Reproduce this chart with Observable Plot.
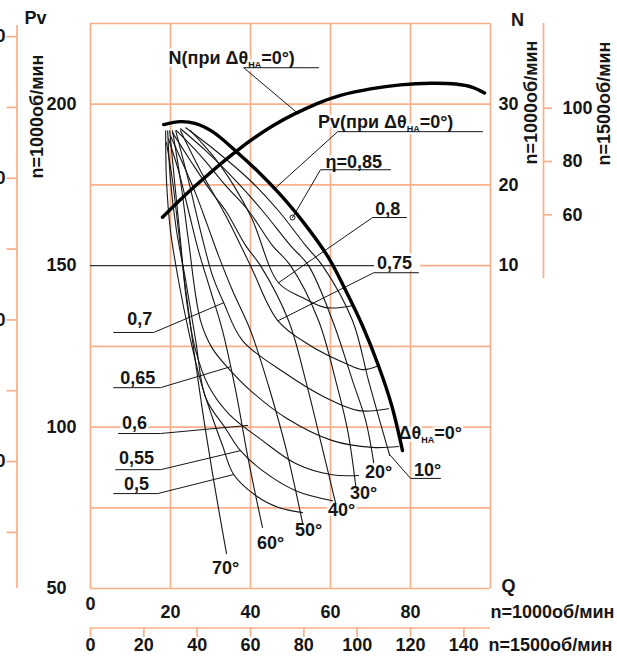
<!DOCTYPE html>
<html><head><meta charset="utf-8">
<script src="https://cdn.jsdelivr.net/npm/d3@7"></script>
<script src="https://cdn.jsdelivr.net/npm/@observablehq/plot@0.6"></script>
<style>
html,body{margin:0;padding:0;background:#fff;}
#chart{width:617px;height:656px;overflow:hidden;}
</style></head><body><div id="chart"></div>
<script>
// ---------- axis / tick values ----------
const qTicks1000 = [20, 40, 60, 80];
const qZero = [0];
const qTicks1500 = [0, 20, 40, 60, 80, 100, 120, 140];
const pvTicks1000 = [100, 150, 200];
const pvBottom = [50];
const pvTicks1500 = [150, 200, 250, 300, 350, 400, 450, 500];
const nTicks1000 = [10, 20, 30];
const nTicks1500 = [60, 80, 100];
const gridQ = [0, 20, 40, 60, 80, 100];
const gridPv = [50, 75, 100, 125, 175, 200, 225];

// ---------- Pv and N at Δθ=0° (n=1000) ----------
const pv0Q  = [18.3, 22.5, 26.3, 30.5, 36.5, 42.0, 47.0, 53.0, 59.5, 63.8, 68.0, 72.0, 75.3, 78.0];
const pv0Pv = [193.7, 194.6, 194.0, 191.5, 185.3, 179.0, 172.6, 163.8, 152.5, 142.3, 131.4, 119.0, 106.7, 92.7];
const n0Q = [18.0, 25.8, 36.5, 45.8, 56.8, 62.5, 70.0, 77.5, 85.0, 91.3, 95.5, 98.5];
const n0N = [16.0, 19.7, 24.2, 27.4, 30.1, 31.1, 31.9, 32.4, 32.6, 32.5, 32.1, 31.4];

// ---------- Pv curves for guide-vane angles Δθ ----------
const t10Q = [23.8, 31.3, 40.0, 47.0, 53.8, 58.0, 65.5, 69.5, 72.3, 74.8];
const t10Pv = [192.7, 185.6, 176.3, 167.0, 156.2, 150.0, 133.0, 114.4, 102.0, 91.2];
const t20Q = [22.5, 28.8, 36.3, 43.0, 50.0, 54.5, 60.5, 65.5, 68.8, 70.8];
const t20Pv = [192.4, 185.6, 176.3, 167.0, 156.2, 150.0, 133.0, 114.4, 102.0, 89.0];
const t30Q = [21.5, 27.5, 33.8, 39.5, 45.5, 50.0, 57.0, 61.3, 64.3, 66.3];
const t30Pv = [191.8, 184.1, 174.8, 167.0, 156.2, 150.0, 133.0, 114.4, 98.9, 81.9];
const t40Q = [20.5, 25.0, 30.0, 33.8, 38.8, 42.5, 49.5, 53.8, 57.5, 61.3];
const t40Pv = [191.2, 182.5, 173.2, 167.0, 156.2, 150.0, 133.0, 114.4, 95.8, 76.3];
const t50Q = [20.0, 23.3, 26.5, 29.3, 32.0, 35.5, 40.0, 44.5, 49.0, 53.0];
const t50Pv = [190.2, 181.0, 171.7, 162.3, 153.1, 142.3, 129.9, 112.8, 92.7, 70.4];
const t60Q = [19.5, 22.0, 24.5, 27.0, 30.0, 33.0, 36.3, 39.5, 43.0];
const t60Pv = [189.3, 179.4, 167.0, 154.6, 142.3, 129.9, 111.3, 89.6, 68.9];
const t70Q = [19.0, 20.5, 22.0, 23.5, 25.5, 28.0, 30.8, 34.0];
const t70Pv = [188.1, 176.3, 160.8, 145.4, 126.8, 105.1, 83.4, 60.8];

// ---------- iso-efficiency curves η ----------
const e50Q = [18.8, 19.0, 20.0, 22.0, 24.5, 27.5, 30.5, 33.0, 35.8, 41.3, 47.0, 53.0];
const e50Pv = [191.8, 176.3, 160.8, 145.4, 129.9, 114.4, 102.9, 94.3, 85.3, 78.8, 75.1, 73.5];
const e55Q = [19.3, 20.0, 21.5, 23.8, 26.3, 28.8, 33.8, 37.5, 43.0, 51.3, 60.5];
const e55Pv = [191.8, 176.3, 160.8, 145.4, 126.8, 109.1, 99.5, 92.7, 86.5, 80.3, 77.2];
const e60Q = [19.8, 21.0, 22.5, 24.0, 26.3, 29.5, 34.5, 43.0, 51.3, 60.0, 67.0];
const e60Pv = [191.8, 176.3, 157.7, 139.2, 123.7, 112.8, 104.2, 95.8, 88.7, 85.3, 85.0];
const e65Q = [20.5, 22.5, 24.5, 27.5, 30.5, 35.0, 40.0, 48.8, 60.5, 70.5, 77.0];
const e65Pv = [191.8, 176.3, 157.7, 133.0, 124.3, 117.5, 111.3, 102.9, 95.8, 93.7, 94.0];
const e70Q = [21.3, 24.5, 27.5, 30.5, 33.3, 38.0, 48.8, 58.8, 67.0, 74.5];
const e70Pv = [191.8, 176.3, 160.8, 146.9, 138.5, 126.8, 116.6, 109.1, 105.1, 105.7];
const e75Q = [22.5, 27.5, 33.8, 40.0, 46.8, 55.0, 63.8, 68.0, 72.0];
const e75Pv = [191.8, 179.4, 165.5, 150.0, 133.0, 125.2, 119.7, 117.8, 119.0];
const e80Q = [25.0, 32.5, 40.0, 47.0, 53.0, 58.8, 65.5];
const e80Pv = [191.8, 181.0, 165.5, 144.7, 140.1, 137.0, 137.6];
const e85Point = {q: 50.5, pv: 164.9};

// ---------- labels (anchored in data units) ----------
const angleLabels = ["10°", "20°", "30°", "40°", "50°", "60°", "70°"];
const angleLabelQ = [84.3, 72.0, 68.3, 62.8, 54.5, 45.0, 33.8];
const angleLabelPv = [86.5, 85.9, 79.4, 74.1, 68.0, 63.9, 56.2];

const etaLeftLabels = ["0,7", "0,65", "0,6", "0,55", "0,5"];
const etaLeftQ = [12.3, 11.8, 11.0, 11.5, 11.5];
const etaLeftPv = [133.3, 115.0, 101.1, 90.2, 82.2];
const etaLeftUnderQ1 = [5.8, 5.8, 7.0, 6.3, 5.8];
const etaLeftUnderQ2 = [15.8, 17.5, 17.5, 17.5, 16.8];
const etaLeftUnderPv = [129.3, 112.2, 98.0, 86.8, 79.4];
const etaLeftTipQ = [33.3, 35.0, 39.3, 37.5, 35.8];
const etaLeftTipPv = [138.5, 118.7, 100.5, 92.7, 85.3];

const rightLabels = ["η=0,85", "0,8", "0,75", "Pv(при Δθ{НА}=0°)", "N(при Δθ{НА}=0°)"];
const rightLabelQ = [65.8, 74.3, 76.0, 73.8, 35.3];
const rightLabelPv = [181.9, 167.6, 150.9, 194.3, 214.2];
const rightUnderQ1 = [57.5, 70.5, 70.8, 61.8, 38.3];
const rightUnderQ2 = [75.0, 79.0, 82.0, 98.0, 57.0];
const rightUnderPv = [179.7, 164.9, 147.8, 191.5, 211.3];
const rightTipQ = [50.5, 47.0, 47.0, 46.0, 52.0];
const rightTipPv = [164.9, 144.7, 133.0, 173.8, 197.0];

const zeroLabel = "Δθ{НА}=0°";
const zeroLabelQ = 77.0, zeroLabelPv = 98.0;
const leader10Q = [75.0, 80.0, 87.5];
const leader10Pv = [91.2, 84.1, 84.1];

// ---------- secondary-scale conversions ----------
const pvFromN = n => 125 + 2.5 * n;              // N (n=1000) on the Pv scale
const nFrom1500 = n => 0.33 * n - 3.5;           // N (n=1500) -> N (n=1000)
const pvFrom1500 = p => 1.58 + 0.4387 * p;       // Pv (n=1500) -> Pv (n=1000)

// ---------- build tables ----------
const rows = (name, qs, vs) => qs.map((q, i) => ({name, q, v: vs[i]}));
const thetaRows = [
  ...rows("10", t10Q, t10Pv), ...rows("20", t20Q, t20Pv), ...rows("30", t30Q, t30Pv),
  ...rows("40", t40Q, t40Pv), ...rows("50", t50Q, t50Pv), ...rows("60", t60Q, t60Pv),
  ...rows("70", t70Q, t70Pv)
];
const etaRows = [
  ...rows("0.5", e50Q, e50Pv), ...rows("0.55", e55Q, e55Pv), ...rows("0.6", e60Q, e60Pv),
  ...rows("0.65", e65Q, e65Pv), ...rows("0.7", e70Q, e70Pv), ...rows("0.75", e75Q, e75Pv),
  ...rows("0.8", e80Q, e80Pv)
];
const pv0Rows = rows("pv0", pv0Q, pv0Pv);
const n0Rows = n0Q.map((q, i) => ({name: "n0", q, v: pvFromN(n0N[i])}));

const leaderRows = [];
etaLeftLabels.forEach((l, i) => {
  leaderRows.push({id: "L" + i, q: etaLeftUnderQ1[i], v: etaLeftUnderPv[i]});
  leaderRows.push({id: "L" + i, q: etaLeftUnderQ2[i], v: etaLeftUnderPv[i]});
  leaderRows.push({id: "L" + i, q: etaLeftTipQ[i], v: etaLeftTipPv[i]});
});
rightLabels.forEach((l, i) => {
  leaderRows.push({id: "R" + i, q: rightUnderQ2[i], v: rightUnderPv[i]});
  leaderRows.push({id: "R" + i, q: rightUnderQ1[i], v: rightUnderPv[i]});
  leaderRows.push({id: "R" + i, q: rightTipQ[i], v: rightTipPv[i]});
});
leader10Q.forEach((q, i) => leaderRows.push({id: "A10", q, v: leader10Pv[i]}));

const ORANGE = "#f7b08a";
const INK = "#161616";
const FONT = {fontSize: 18, fontWeight: "bold", fill: INK};
const MID = {textAnchor: "middle", lineAnchor: "middle"};
const HALO = {stroke: "white", strokeWidth: 5};

const chart = Plot.plot({
  width: 617, height: 656,
  marginLeft: 90, marginRight: 127, marginTop: 23, marginBottom: 68,
  x: {domain: [0, 100], axis: null, label: null},
  y: {domain: [50, 225], axis: null, label: null},
  style: {fontFamily: "'Liberation Sans', Arial, sans-serif", background: "white", overflow: "hidden"},
  marks: [
    // grid & frame
    Plot.ruleX(gridQ, {x: d => d, y1: 50, y2: 225, stroke: ORANGE, strokeWidth: 1.7}),
    Plot.ruleY(gridPv, {y: d => d, x1: 0, x2: 100, stroke: ORANGE, strokeWidth: 1.7}),
    Plot.ruleY([150], {y: d => d, x1: 0, x2: 71, stroke: "#333", strokeWidth: 1.3}),
    Plot.ruleY([150], {y: d => d, x1: 82.5, x2: 100, stroke: ORANGE, strokeWidth: 1.7}),

    // left outer axis (n=1500 Pv), its labels run off the page edge as in the source
    Plot.ruleX([0], {x: d => d, dx: -73.5, insetTop: 2, stroke: ORANGE, strokeWidth: 1.7}),
    Plot.ruleY(pvTicks1500, {y: pvFrom1500, insetLeft: -83.5, insetRight: 473.5, stroke: ORANGE, strokeWidth: 1.7}),
    Plot.text(pvTicks1500.filter(d => d % 100 === 0), {x: 0, y: pvFrom1500, dx: -85, textAnchor: "end", text: d => String(d), ...FONT}),

    // left Pv axis (n=1000)
    Plot.text(pvTicks1000, {x: 0, y: d => d, dx: -14, textAnchor: "end", text: d => String(d), ...FONT}),
    Plot.text(pvBottom, {x: 0, y: d => d, dx: -24, textAnchor: "end", text: d => String(d), ...FONT}),
    Plot.text(["Pv"], {frameAnchor: "top-left", dx: -55, dy: -5, text: d => d, ...FONT, ...MID}),
    Plot.text(["n=1000об/мин"], {frameAnchor: "top-left", dx: -53.5, dy: 93, rotate: -90, text: d => d, ...FONT, ...MID}),

    // right N axis (n=1000)
    Plot.text(nTicks1000, {x: 100, y: pvFromN, dx: 8, textAnchor: "start", text: d => String(d), ...FONT}),
    Plot.text(["N"], {frameAnchor: "top-right", dx: 27, dy: -3, text: d => d, ...FONT, ...MID}),
    Plot.text(["n=1000об/мин"], {frameAnchor: "top-right", dx: 41, dy: 79, rotate: -90, text: d => d, ...FONT, ...MID}),

    // right N axis (n=1500)
    Plot.ruleX([100], {x: d => d, dx: 53, insetBottom: 310, stroke: ORANGE, strokeWidth: 1.7}),
    Plot.ruleY(nTicks1500, {y: d => pvFromN(nFrom1500(d)), insetLeft: 453, insetRight: -62, stroke: ORANGE, strokeWidth: 1.7}),
    Plot.text(nTicks1500, {x: 100, y: d => pvFromN(nFrom1500(d)), dx: 72, textAnchor: "start", text: d => String(d), ...FONT}),
    Plot.text(["n=1500об/мин"], {frameAnchor: "top-right", dx: 114, dy: 80, rotate: -90, text: d => d, ...FONT, ...MID}),

    // bottom Q axis (n=1000)
    Plot.text(qTicks1000, {x: d => d, frameAnchor: "bottom", dy: 24, text: d => String(d), ...FONT, ...MID}),
    Plot.text(qZero, {x: d => d, frameAnchor: "bottom", dy: 16, text: d => String(d), ...FONT, ...MID}),
    Plot.text(["Q"], {frameAnchor: "bottom-right", dx: 18, dy: -2, text: d => d, ...FONT, ...MID}),
    Plot.text(["n=1000об/мин"], {frameAnchor: "bottom-right", dx: 0, dy: 24, text: d => d, ...FONT, textAnchor: "start", lineAnchor: "middle"}),

    // bottom Q axis (n=1500)
    Plot.ruleY([50], {y: d => d, x1: 0, x2: 100, dy: 39.5, stroke: ORANGE, strokeWidth: 1.7}),
    Plot.ruleX(qTicks1500, {x: d => d / 1.5, insetTop: 604.5, insetBottom: -49, stroke: ORANGE, strokeWidth: 1.7}),
    Plot.text(qTicks1500, {x: d => d / 1.5, frameAnchor: "bottom", dy: 57, text: d => String(d), ...FONT, ...MID}),
    Plot.text(["n=1500об/мин"], {frameAnchor: "bottom-right", dx: -2, dy: 57, text: d => d, ...FONT, textAnchor: "start", lineAnchor: "middle"}),

    // labels on the field (white halo)
    Plot.text(angleLabels, {x: (d, i) => angleLabelQ[i], y: (d, i) => angleLabelPv[i], text: d => d, ...FONT, ...HALO}),
    Plot.text(etaLeftLabels, {x: (d, i) => etaLeftQ[i], y: (d, i) => etaLeftPv[i], text: d => d, ...FONT, ...HALO}),
    Plot.text(rightLabels, {x: (d, i) => rightLabelQ[i], y: (d, i) => rightLabelPv[i], text: d => d, ...FONT, ...HALO}),
    Plot.text([zeroLabel], {x: zeroLabelQ, y: zeroLabelPv, textAnchor: "start", text: d => d, ...FONT, ...HALO}),

    // curves
    Plot.line(etaRows, {x: "q", y: "v", z: "name", curve: "catmull-rom", stroke: INK, strokeWidth: 1.1}),
    Plot.line(thetaRows, {x: "q", y: "v", z: "name", curve: "catmull-rom", stroke: INK, strokeWidth: 1.1}),
    Plot.dot([e85Point], {x: "q", y: "pv", r: 2.5, stroke: INK, fill: "white", strokeWidth: 1}),
    Plot.line(leaderRows, {x: "q", y: "v", z: "id", stroke: INK, strokeWidth: 1}),
    Plot.line(pv0Rows, {x: "q", y: "v", curve: "catmull-rom", stroke: "#000", strokeWidth: 3.4}),
    Plot.line(n0Rows, {x: "q", y: "v", curve: "catmull-rom", stroke: "#000", strokeWidth: 3.4})
  ]
});

// subscripts written as {…}
chart.querySelectorAll("text, tspan").forEach(t => {
  if (t.children.length === 0 && t.textContent.includes("{")) {
    const s = t.textContent;
    t.textContent = "";
    let sub = false;
    s.split(/(\{[^}]*\})/).forEach(part => {
      if (!part) return;
      const ts = document.createElementNS("http://www.w3.org/2000/svg", "tspan");
      if (part.startsWith("{")) {
        ts.textContent = part.slice(1, -1);
        ts.setAttribute("font-size", "9");
        ts.setAttribute("dy", "4");
        sub = true;
      } else {
        ts.textContent = part;
        if (sub) ts.setAttribute("dy", "-4");
        sub = false;
      }
      t.appendChild(ts);
    });
  }
});

document.getElementById("chart").appendChild(chart);
</script>
</body></html>
